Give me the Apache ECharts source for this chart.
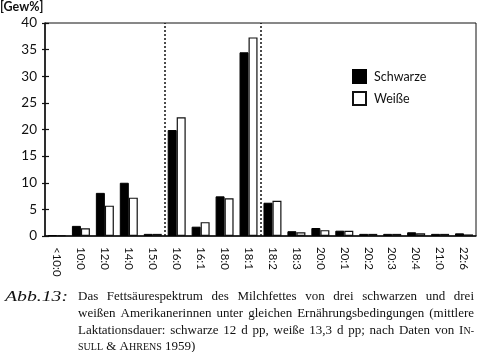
<!DOCTYPE html>
<html><head><meta charset="utf-8">
<script src="https://cdn.jsdelivr.net/npm/echarts@6/dist/echarts.min.js"></script>
<style>html,body{margin:0;padding:0;background:#fff}#c{width:480px;height:352px}</style>
</head><body><div id="c"></div>
<script>
const categories = ['<10:0','10:0','12:0','14:0','15:0','16:0','16:1','18:0','18:1','18:2','18:3','20:0','20:1','20:2','20:3','20:4','21:0','22:6'];
const schwarze = [0.15, 1.9, 8.1, 10.0, 0.4, 19.9, 1.75, 7.45, 34.5, 6.25, 0.9, 1.5, 1.0, 0.4, 0.4, 0.7, 0.4, 0.5];
const weisse   = [0.15, 1.45, 5.7, 7.2, 0.4, 22.3, 2.6, 7.1, 37.3, 6.6, 0.7, 1.1, 1.0, 0.4, 0.4, 0.5, 0.4, 0.3];
const yTicks = [0, 5, 10, 15, 20, 25, 30, 35, 40];
const dividers = [5, 9];
const yUnit = '[Gew%]';
const seriesNames = ['Schwarze', 'Weiße'];
const captionLabel = 'Abb.13:';
const captionLines = [
  'Das Fettsäurespektrum des Milchfettes von drei schwarzen und drei',
  'weißen Amerikanerinnen unter gleichen Ernährungsbedingungen (mittlere',
  'Laktationsdauer: schwarze 12 d pp, weiße 13,3 d pp; nach Daten von IN-'
];
const captionLast = 'SULL & AHRENS 1959)';

const sans = 'Lato, "Open Sans", sans-serif';
const serif = '"Liberation Serif", "DejaVu Serif", serif';
const chart = echarts.init(document.getElementById('c'), null, {renderer: 'canvas'});

// caption layout (justified)
const ctx = document.createElement('canvas').getContext('2d');
function mw(t, size, style) { ctx.font = (style || '') + ' ' + size + 'px ' + serif; return ctx.measureText(t).width; }
const FS = 13, SC = 10;
function segs(word) {
  if (/^[A-Z]{2,}/.test(word)) {
    return [[word[0], FS], [word.slice(1), SC]];
  }
  return [[word, FS]];
}
const graphics = [];
const X0 = 78, X1 = 474;
const lineY = [297, 314, 331, 347];
{
  const lw = mw(captionLabel, 14, 'italic');
  graphics.push({type: 'text', x: 5, y: lineY[0], scaleX: 63 / lw,
    style: {text: captionLabel, font: 'italic 14px ' + serif, fill: '#111', verticalAlign: 'middle'}});
}
captionLines.forEach((line, li) => {
  const words = line.split(' ').map(segs);
  const widths = words.map(w => w.reduce((s, g) => s + mw(g[0], g[1]), 0));
  const total = widths.reduce((a, b) => a + b, 0);
  const gap = Math.max(2, (X1 - X0 - total) / (words.length - 1));
  let x = X0;
  words.forEach((w, wi) => {
    let xx = x;
    w.forEach(g => {
      graphics.push({type: 'text', x: xx, y: lineY[li], style: {text: g[0], font: g[1] + 'px ' + serif, fill: '#111', verticalAlign: 'middle'}});
      xx += mw(g[0], g[1]);
    });
    x += widths[wi] + gap;
  });
});
{
  let x = X0;
  const sp = mw(' ', FS);
  captionLast.split(' ').forEach(word => {
    let ss = word === 'SULL' ? [[word, SC]] : segs(word);
    ss.forEach(g => {
      graphics.push({type: 'text', x: x, y: lineY[3], style: {text: g[0], font: g[1] + 'px ' + serif, fill: '#111', verticalAlign: 'middle'}});
      x += mw(g[0], g[1]);
    });
    x += sp;
  });
}
graphics.push({type: 'text', left: 0, top: 0, style: {text: yUnit, font: 'bold 12.5px ' + sans, fill: '#111'}});

const option = {
  animation: false,
  backgroundColor: '#fff',
  grid: {left: 45, top: 23, right: 4, bottom: 116, show: true, borderColor: '#111', borderWidth: 1},
  legend: {
    data: seriesNames, orient: 'vertical', left: 347, top: 64, itemWidth: 13, itemHeight: 13, itemGap: 7,
    icon: 'rect', textStyle: {fontFamily: sans, fontSize: 12.5, color: '#111', padding: [0, 0, 0, 3]}
  },
  xAxis: [
    {type: 'category', data: categories, position: 'bottom',
     axisLine: {lineStyle: {color: '#111', width: 1.5}},
     axisTick: {length: 4, lineStyle: {color: '#111', width: 1.2}},
     axisLabel: {rotate: -90, margin: 11, fontFamily: sans, fontSize: 11.5, color: '#111', interval: 0}},
    {type: 'category', data: categories, position: 'bottom',
     axisLine: {show: false}, axisLabel: {show: false},
     axisTick: {inside: true, length: 3, lineStyle: {color: '#111', width: 1.2}}},
    {type: 'value', min: 0, max: categories.length, position: 'bottom', show: false}
  ],
  yAxis: [
    {type: 'value', min: yTicks[0], max: yTicks[yTicks.length - 1], interval: yTicks[1] - yTicks[0],
     axisLine: {show: true, lineStyle: {color: '#111', width: 1.5}},
     axisTick: {show: true, length: 3, lineStyle: {color: '#111', width: 1.2}},
     splitLine: {show: false},
     axisLabel: {margin: 8, fontFamily: sans, fontSize: 13.5, color: '#111'}},
    {type: 'value', min: yTicks[0], max: yTicks[yTicks.length - 1], interval: yTicks[1] - yTicks[0], position: 'left',
     axisLine: {show: false}, splitLine: {show: false}, axisLabel: {show: false},
     axisTick: {show: true, inside: true, length: 4, lineStyle: {color: '#111', width: 1.2}}}
  ],
  series: [
    {name: seriesNames[0], type: 'bar', data: schwarze, barWidth: 9, barGap: '0%',
     itemStyle: {color: '#000', borderColor: '#000', borderWidth: 1}},
    {name: seriesNames[1], type: 'bar', data: weisse, barWidth: 9, barGap: '0%',
     itemStyle: {color: '#fff', borderColor: '#111', borderWidth: 1.2}},
    {type: 'line', xAxisIndex: 2, data: [], silent: true,
     markLine: {silent: true, symbol: 'none', label: {show: false},
       lineStyle: {type: [2, 2], color: '#111', width: 1.5},
       data: dividers.map(d => ({xAxis: d}))}}
  ],
  graphic: graphics
};
chart.setOption(option);
</script>
</body></html>
